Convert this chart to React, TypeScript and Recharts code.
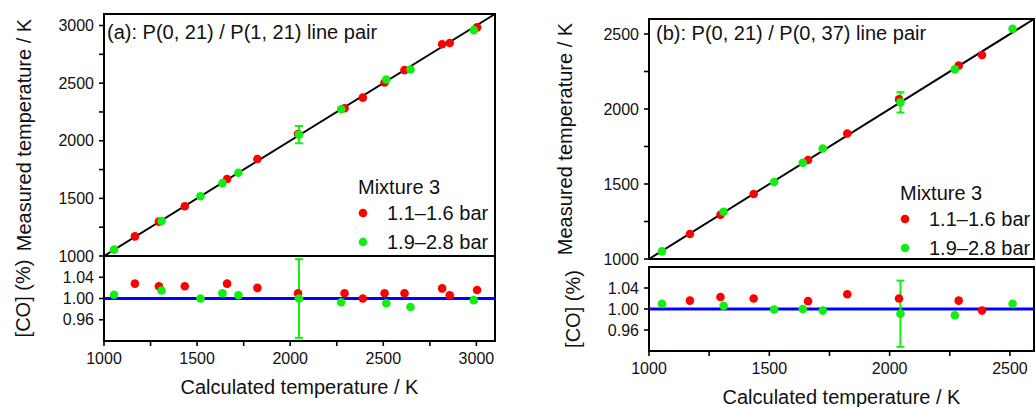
import React from "react";
import {
  ErrorBar,
  Label,
  ReferenceArea,
  ReferenceLine,
  Scatter,
  ScatterChart,
  XAxis,
  YAxis,
} from "recharts";

// panel (a): P(0, 21) / P(1, 21)
const calcRedA = [1166, 1295, 1434, 1661, 1824, 2042, 2292, 2390, 2507, 2614, 2816, 2857, 3004];
const measRedA = [1170, 1298, 1432, 1668, 1842, 2058, 2282, 2374, 2505, 2613, 2838, 2848, 2984];
const coRedA = [1.028, 1.023, 1.023, 1.028, 1.02, 1.01, 1.01, 1.0, 1.01, 1.01, 1.019, 1.006, 1.016];
const calcGreenA = [1054, 1309, 1518, 1636, 1722, 2047, 2274, 2516, 2646, 2986];
const measGreenA = [1055, 1304, 1519, 1632, 1722, 2053, 2274, 2532, 2618, 2960];
const coGreenA = [1.007, 1.015, 1.0, 1.01, 1.006, 1.0, 0.993, 0.991, 0.984, 0.997];
const measErrGreenA = [null, null, null, null, null, 75, null, null, null, null];
const coErrGreenA = [null, null, null, null, null, 0.074, null, null, null, null];

// panel (b): P(0, 21) / P(0, 37)
const calcRedB = [1170, 1297, 1435, 1661, 1824, 2039, 2287, 2384];
const measRedB = [1167, 1295, 1433, 1660, 1837, 2064, 2289, 2360];
const coRedB = [1.016, 1.023, 1.02, 1.015, 1.028, 1.02, 1.016, 0.997];
const calcGreenB = [1054, 1310, 1520, 1639, 1722, 2045, 2271, 2511];
const measGreenB = [1051, 1315, 1513, 1642, 1737, 2044, 2264, 2535];
const coGreenB = [1.01, 1.006, 0.999, 1.0, 0.997, 0.991, 0.988, 1.01];
const measErrGreenB = [null, null, null, null, null, 68, null, null];
const coErrGreenB = [null, null, null, null, null, 0.063, null, null];

// axes
const domainA = [1000, 3100];
const ticksA = [1000, 1250, 1500, 1750, 2000, 2250, 2500, 2750, 3000];
const majorsA = [1000, 1500, 2000, 2500, 3000];
const domainB = [1000, 2600];
const ticksB = [1000, 1250, 1500, 1750, 2000, 2250, 2500];
const majorsB = [1000, 1500, 2000, 2500];
const coDomain = [0.92, 1.08];
const coTicks = [0.96, 1.0, 1.04];

const RED = "#ff0000";
const GREEN = "#11ee11";
const BLUE = "#0000ff";
const INK = "#111";
const FONT = "'Liberation Sans', Arial, sans-serif";

const isMajor = (v: number, majors: number[]) =>
  majors.some((m) => Math.abs(m - v) < 1e-6);

// only the labels; the tick lines come from the axis itself
const tickLabel =
  (side: string, majors: number[], digits: number) => (props: any) => {
    const v = props.payload.value;
    if (!isMajor(v, majors)) return <g />;
    const x = Number(props.x);
    const y = Number(props.y);
    return side === "left" ? (
      <text x={x} y={y} textAnchor="end" dominantBaseline="central"
        fontSize={16} fontFamily={FONT} fill={INK}>
        {Number(v).toFixed(digits)}
      </text>
    ) : (
      <text x={x} y={y + 7} textAnchor="middle" dominantBaseline="central"
        fontSize={16} fontFamily={FONT} fill={INK}>
        {Number(v).toFixed(digits)}
      </text>
    );
  };

const yTitle = (text: string, dx: number) => (props: any) => {
  const vb = props.viewBox;
  const cx = vb.x + vb.width + dx;
  const cy = vb.y + vb.height / 2;
  return (
    <text
      x={cx}
      y={cy}
      transform={`rotate(-90 ${cx} ${cy})`}
      textAnchor="middle"
      dominantBaseline="central"
      fontSize={20}
      fontFamily={FONT}
      fill={INK}
    >
      {text}
    </text>
  );
};

const xTitle = (text: string) => (props: any) => {
  const vb = props.viewBox;
  return (
    <text
      x={vb.x + vb.width / 2}
      y={vb.y + 46}
      textAnchor="middle"
      dominantBaseline="central"
      fontSize={20}
      fontFamily={FONT}
      fill={INK}
    >
      {text}
    </text>
  );
};

const titleAndLegend =
  (title: string, tdx: number, tdy: number, lx: number, ly: number) =>
  (props: any) => {
    const vb = props.viewBox;
    const x0 = vb.x;
    const y0 = vb.y;
    return (
      <g fontSize={20} fontFamily={FONT} fill={INK}>
        <text x={x0 + tdx} y={y0 + tdy} dominantBaseline="central">
          {title}
        </text>
        <text x={x0 + lx} y={y0 + ly} dominantBaseline="central">
          Mixture 3
        </text>
        <circle cx={x0 + lx + 5} cy={y0 + ly + 26} r={4.3} fill={RED} />
        <text x={x0 + lx + 29} y={y0 + ly + 26} dominantBaseline="central">
          1.1–1.6 bar
        </text>
        <circle cx={x0 + lx + 5} cy={y0 + ly + 55} r={4.3} fill={GREEN} />
        <text x={x0 + lx + 29} y={y0 + ly + 55} dominantBaseline="central">
          1.9–2.8 bar
        </text>
      </g>
    );
  };

const dot = (color: string) => (p: any) =>
  <circle cx={p.cx} cy={p.cy} r={4.3} fill={color} />;

type Geo = {
  left: number;
  width: number;
  yAxisW: number;
  rightM: number;
  topY: number;
  topH: number;
  topT: number;
  topB: number;
  botY: number;
  botH: number;
  botT: number;
  botXH: number;
};

const TICK_LINE = { stroke: "#000", strokeWidth: 1.6 };
const axisCommon = {
  type: "number" as const,
  interval: 0 as const,
  allowDataOverflow: true,
  axisLine: false,
  tickLine: TICK_LINE,
  tickSize: 5,
  tickMargin: 5,
};
// mirrored axes take no room and put their tick marks inside the frame
const innerAxis = { ...axisCommon, mirror: true, tick: false };

const Panel = (p: any) => {
  const g: Geo = p.g;
  const redTop = p.calcRed.map((x: number, i: number) => ({ x, y: p.measRed[i] }));
  const greenTop = p.calcGreen.map((x: number, i: number) => ({
    x,
    y: p.measGreen[i],
    err: p.measErr[i],
  }));
  const redBot = p.calcRed.map((x: number, i: number) => ({ x, y: p.coRed[i] }));
  const greenBot = p.calcGreen.map((x: number, i: number) => ({
    x,
    y: p.coGreen[i],
    err: p.coErr[i],
  }));
  const d = p.domain;

  return (
    <>
      <div style={{ position: "absolute", left: g.left, top: g.topY }}>
        <ScatterChart
          width={g.width}
          height={g.topH}
          margin={{ top: g.topT, right: g.rightM, bottom: g.topB, left: 0 }}
        >
          <XAxis {...innerAxis} xAxisId="b" dataKey="x" domain={d} ticks={p.ticks} height={1} />
          <XAxis {...innerAxis} xAxisId="t" orientation="top" dataKey="x" domain={d}
            ticks={p.ticks} height={1}>
            <Label content={titleAndLegend(p.title, p.tdx, p.tdy, p.lx, p.ly)} />
          </XAxis>
          <YAxis {...axisCommon} yAxisId="l" dataKey="y" domain={d} ticks={p.ticks}
            width={g.yAxisW} tick={tickLabel("left", p.majors, 0)}>
            <Label content={yTitle("Measured temperature / K", p.measDx)} />
          </YAxis>
          <YAxis {...innerAxis} yAxisId="r" orientation="right" dataKey="y" domain={d}
            ticks={p.ticks} width={1} />
          <ReferenceArea xAxisId="b" yAxisId="l" x1={d[0]} x2={d[1]} y1={d[0]} y2={d[1]}
            fill="none" stroke="#000" strokeWidth={2} ifOverflow="visible" />
          <ReferenceLine
            xAxisId="b"
            yAxisId="l"
            segment={[
              { x: d[0], y: d[0] },
              { x: d[1], y: d[1] },
            ]}
            stroke="#000"
            strokeWidth={2}
          />
          <Scatter xAxisId="b" yAxisId="l" data={redTop} fill={RED} shape={dot(RED)}
            isAnimationActive={false} />
          <Scatter xAxisId="b" yAxisId="l" data={greenTop} fill={GREEN} shape={dot(GREEN)}
            isAnimationActive={false}>
            <ErrorBar dataKey="err" direction="y" width={4} strokeWidth={2} stroke={GREEN}
              isAnimationActive={false} />
          </Scatter>
        </ScatterChart>
      </div>
      <div style={{ position: "absolute", left: g.left, top: g.botY }}>
        <ScatterChart
          width={g.width}
          height={g.botH}
          margin={{ top: g.botT, right: g.rightM, bottom: 0, left: 0 }}
        >
          <XAxis {...axisCommon} xAxisId="b" dataKey="x" domain={d} ticks={p.ticks}
            height={g.botXH} tick={tickLabel("bottom", p.majors, 0)}>
            <Label content={xTitle("Calculated temperature / K")} />
          </XAxis>
          <XAxis {...innerAxis} xAxisId="t" orientation="top" dataKey="x" domain={d}
            ticks={p.ticks} height={1} />
          <YAxis {...axisCommon} yAxisId="l" dataKey="y" domain={coDomain} ticks={coTicks}
            width={g.yAxisW} tick={tickLabel("left", coTicks, 2)}>
            <Label content={yTitle("[CO] (%)", p.coDx)} />
          </YAxis>
          <YAxis {...innerAxis} yAxisId="r" orientation="right" dataKey="y" domain={coDomain}
            ticks={coTicks} width={1} />
          <ReferenceArea xAxisId="b" yAxisId="l" x1={d[0]} x2={d[1]} y1={coDomain[0]}
            y2={coDomain[1]} fill="none" stroke="#000" strokeWidth={2} ifOverflow="visible" />
          <ReferenceLine xAxisId="b" yAxisId="l" y={1} stroke={BLUE} strokeWidth={3} />
          <Scatter xAxisId="b" yAxisId="l" data={redBot} fill={RED} shape={dot(RED)}
            isAnimationActive={false} />
          <Scatter xAxisId="b" yAxisId="l" data={greenBot} fill={GREEN} shape={dot(GREEN)}
            isAnimationActive={false}>
            <ErrorBar dataKey="err" direction="y" width={4} strokeWidth={2} stroke={GREEN}
              isAnimationActive={false} />
          </Scatter>
        </ScatterChart>
      </div>
    </>
  );
};

const geoA: Geo = {
  left: 0, width: 520, yAxisW: 104, rightM: 25,
  topY: 0, topH: 275, topT: 14, topB: 19,
  botY: 240, botH: 167, botT: 16, botXH: 66,
};
const geoB: Geo = {
  left: 520, width: 516, yAxisW: 129, rightM: 2,
  topY: 0, topH: 275, topT: 19, topB: 16,
  botY: 250, botH: 157, botT: 17, botXH: 56,
};

export default function App() {
  return (
    <div
      style={{
        position: "absolute",
        left: 0,
        top: 0,
        width: 1036,
        height: 407,
        background: "#fff",
        overflow: "hidden",
      }}
    >
      <Panel
        g={geoA}
        title="(a): P(0, 21) / P(1, 21) line pair"
        domain={domainA}
        ticks={ticksA}
        majors={majorsA}
        calcRed={calcRedA}
        measRed={measRedA}
        coRed={coRedA}
        calcGreen={calcGreenA}
        measGreen={measGreenA}
        coGreen={coGreenA}
        measErr={measErrGreenA}
        coErr={coErrGreenA}
        tdx={3}
        tdy={18}
        lx={254}
        ly={173}
        measDx={-80}
        coDx={-81}
      />
      <Panel
        g={geoB}
        title="(b): P(0, 21) / P(0, 37) line pair"
        domain={domainB}
        ticks={ticksB}
        majors={majorsB}
        calcRed={calcRedB}
        measRed={measRedB}
        coRed={coRedB}
        calcGreen={calcGreenB}
        measGreen={measGreenB}
        coGreen={coGreenB}
        measErr={measErrGreenB}
        coErr={coErrGreenB}
        tdx={7}
        tdy={14}
        lx={251}
        ly={174}
        measDx={-84}
        coDx={-76}
      />
    </div>
  );
}
